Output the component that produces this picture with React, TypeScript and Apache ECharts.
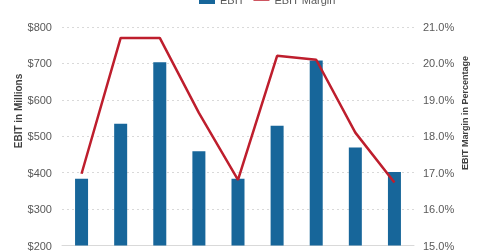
import React, { useEffect, useRef } from "react";
import * as echarts from "echarts";

const categories = ["Q1", "Q2", "Q3", "Q4", "Q5", "Q6", "Q7", "Q8", "Q9"];
const ebit = [383, 534, 703, 459, 383, 529, 708, 469, 402];
const ebitMargin = [16.97, 20.7, 20.7, 18.64, 16.8, 20.21, 20.1, 18.1, 16.73];
const leftTitle = "EBIT in Millions";
const rightTitle = "EBIT Margin in Percentage";

export default function App() {
  const ref = useRef<HTMLDivElement>(null);
  useEffect(() => {
    if (!ref.current) return;
    const chart = echarts.init(ref.current, undefined, { renderer: "svg" });
    const font = "Arial, 'Liberation Sans', sans-serif";
    chart.setOption({
      animation: false,
      textStyle: { fontFamily: font },
      legend: {
        top: -11,
        left: 194,
        itemWidth: 16,
        itemHeight: 9,
        itemGap: 9,
        symbolKeepAspect: true,
        textStyle: { fontSize: 11, color: "#595959", fontFamily: font },
        data: [
          { name: "EBIT", icon: "rect" },
          { name: "EBIT Margin", icon: "path://M0,0 L16,0 L16,2.5 L0,2.5 Z" },
        ],
      },
      grid: { left: 62, right: 66, top: 27, bottom: 5 },
      xAxis: {
        type: "category",
        data: categories,
        axisTick: { show: false },
        axisLabel: { show: false },
        axisLine: { lineStyle: { color: "#d9d9d9" } },
      },
      yAxis: [
        {
          type: "value",
          min: 200,
          max: 800,
          interval: 100,
          axisLine: { show: false },
          axisTick: { show: false },
          axisLabel: {
            margin: 10,
            fontSize: 11,
            color: "#595959",
            formatter: (v: number) => "$" + v,
          },
          splitLine: { lineStyle: { color: "#d9d9d9", type: [2, 3] } },
        },
        {
          type: "value",
          min: 15,
          max: 21,
          interval: 1,
          axisLine: { show: false },
          axisTick: { show: false },
          axisLabel: {
            margin: 9,
            fontSize: 11,
            color: "#595959",
            formatter: (v: number) => v.toFixed(1) + "%",
          },
          splitLine: { show: false },
        },
      ],
      series: [
        {
          name: "EBIT",
          type: "bar",
          data: ebit,
          barWidth: 13,
          itemStyle: { color: "#17669a" },
        },
        {
          name: "EBIT Margin",
          type: "line",
          yAxisIndex: 1,
          data: ebitMargin,
          symbol: "none",
          lineStyle: { color: "#be1e2d", width: 2.5 },
          itemStyle: { color: "#be1e2d" },
        },
      ],
      graphic: [
        {
          type: "text",
          x: 18,
          y: 111,
          rotation: Math.PI / 2,
          style: {
            text: leftTitle,
            fontSize: 10,
            fontWeight: "bold",
            fill: "#404040",
            fontFamily: font,
            align: "center",
            verticalAlign: "middle",
          },
        },
        {
          type: "text",
          x: 465,
          y: 113,
          rotation: Math.PI / 2,
          style: {
            text: rightTitle,
            fontSize: 9,
            fontWeight: "bold",
            fill: "#404040",
            fontFamily: font,
            align: "center",
            verticalAlign: "middle",
          },
        },
      ],
    });
    return () => chart.dispose();
  }, []);
  return <div ref={ref} style={{ width: 480, height: 251, position: "fixed", left: 0, top: 0 }} />;
}
